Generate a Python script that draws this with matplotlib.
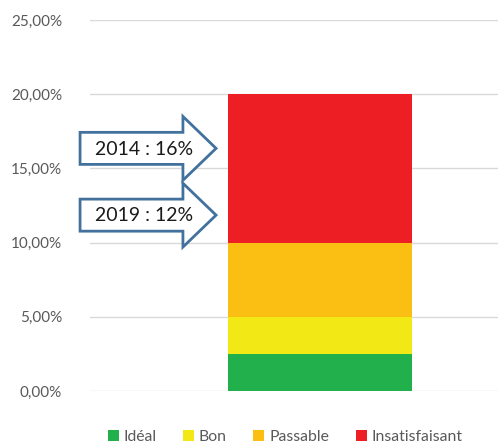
import matplotlib
matplotlib.use("Agg")
import matplotlib.pyplot as plt
from matplotlib.patches import Polygon, Patch
from matplotlib.ticker import FuncFormatter

plt.rcParams['font.family'] = ['Lato', 'DejaVu Sans']

categories = ["Idéal", "Bon", "Passable", "Insatisfaisant"]
values = [2.5, 2.5, 5.0, 10.0]
colors = ["#21B04B", "#F2E816", "#FBBE12", "#ED1F24"]
annotations = ["2014 : 16%", "2019 : 12%"]
annot_values = [16.35, 11.85]
yticks = [0, 5, 10, 15, 20, 25]

W, H = 498, 446
fig = plt.figure(figsize=(W / 100, H / 100), dpi=100)
ax = fig.add_axes([90 / W, (H - 391) / H, 408 / W, 371 / H])

bottom = 0
for cat, v, c in zip(categories, values, colors):
    ax.bar(0, v, width=1.0, bottom=bottom, color=c, label=cat, zorder=3)
    bottom += v

ax.set_xlim(-1.25, 0.967)
ax.set_ylim(0, 25)
ax.set_yticks(yticks)
ax.yaxis.set_major_formatter(FuncFormatter(lambda v, p: f"{v:.2f}%".replace(".", ",")))
ax.grid(axis='y', color='#d9d9d9', linewidth=1.0, zorder=0)
ax.set_xticks([])
for s in ax.spines.values():
    s.set_visible(False)
ax.tick_params(axis='y', length=0, pad=20, labelsize=11, labelcolor='#595959')

# block arrows
x_left, x_neck, x_tip = -1.304, -0.745, -0.565
body_h, head_h = 1.08, 2.15
for txt, yc in zip(annotations, annot_values):
    pts = [(x_left, yc - body_h), (x_neck, yc - body_h), (x_neck, yc - head_h),
           (x_tip, yc), (x_neck, yc + head_h), (x_neck, yc + body_h),
           (x_left, yc + body_h)]
    poly = Polygon(pts, closed=True, facecolor='white', edgecolor='#41719C',
                   linewidth=2.0, clip_on=False, zorder=4, joinstyle='miter')
    ax.add_patch(poly)
    ax.text(-0.955, yc - 0.05, txt, ha='center', va='center', fontsize=14,
            color='#1a1a1a', zorder=5, clip_on=False)

handles = [Patch(facecolor=c, label=cat) for cat, c in zip(categories, colors)]
fig.legend(handles=handles, loc='center', bbox_to_anchor=(285 / W, 1 - 437 / H),
           ncol=4, frameon=False, handlelength=0.7, handleheight=0.7,
           handletextpad=0.3, columnspacing=1.7, fontsize=11.3,
           labelcolor='#595959')

fig.savefig("out.png", dpi=100)
